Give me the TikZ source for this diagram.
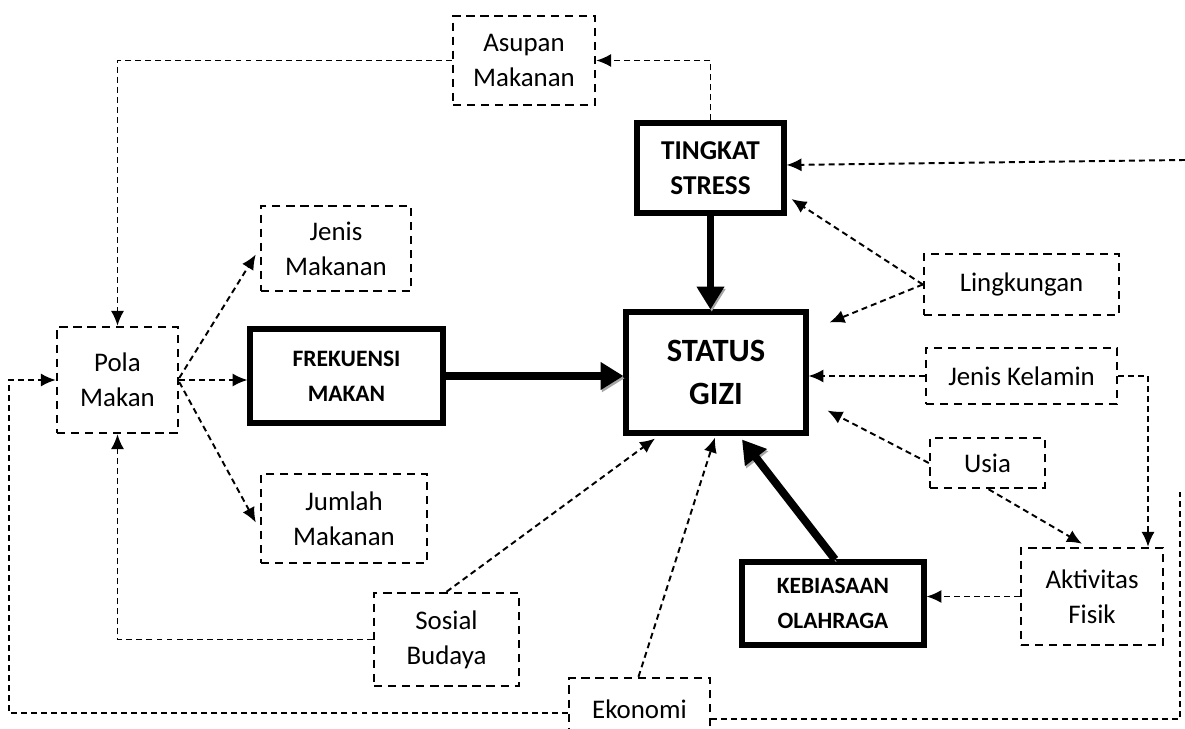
\documentclass[tikz,border=0pt]{standalone}
\usepackage{fontspec}
\setmainfont{Carlito}
\usetikzlibrary{arrows.meta,calc}
\begin{document}
\begin{tikzpicture}[x=0.02cm,y=-0.02cm,
 dbox/.style={draw, line width=1.4pt, dash pattern=on 4.7pt off 3.3pt, align=center, inner sep=0pt, font=\fontsize{15.3}{20}\selectfont},
 tbox/.style={draw, line width=2.9pt, align=center, inner sep=0pt, font=\bfseries\fontsize{13.4}{20}\selectfont},
 dc/.style={line width=1.1pt, dash pattern=on 3.4pt off 2.3pt, -{Latex[length=8.5pt,width=7.5pt]}},
 tc/.style={line width=4.5pt, -{Triangle[length=13pt,width=15pt]}, preaction={draw=black!35, transform canvas={xshift=0.7pt,yshift=-1.3pt}}}
]
\useasboundingbox (0,0) rectangle (1185,729);
\clip (0,0) rectangle (1185,729);

% nodes
\node[dbox, minimum width=2.84cm, minimum height=1.78cm] (asupan) at (524,60.5) {Asupan\\Makanan};
\node[tbox, minimum width=2.94cm, minimum height=1.8cm, font=\bfseries\fontsize{15.5}{20}\selectfont] (tingkat) at (710.5,168) {TINGKAT\\STRESS};
\node[dbox, minimum width=3.0cm, minimum height=1.7cm] (jenis) at (336,248.5) {Jenis\\Makanan};
\node[dbox, minimum width=2.42cm, minimum height=2.12cm] (pola) at (117.5,380) {Pola\\Makan};
\node[tbox, minimum width=3.86cm, minimum height=1.88cm] (frek) at (346.5,376) {FREKUENSI\\MAKAN};
\node[dbox, minimum width=3.32cm, minimum height=1.78cm] (jumlah) at (344,518.5) {Jumlah\\Makanan};
\node[dbox, minimum width=2.9cm, minimum height=1.86cm] (sosial) at (446.5,639.5) {Sosial\\Budaya};
\node[dbox, minimum width=2.82cm, minimum height=1.24cm] (ekon) at (639.5,709) {Ekonomi};
\node[tbox, minimum width=3.6cm, minimum height=2.42cm, font=\bfseries\fontsize{18.5}{24}\selectfont] (status) at (716,372.5) {STATUS\\GIZI};
\node[dbox, minimum width=3.9cm, minimum height=1.22cm] (lingk) at (1021.5,284.5) {Lingkungan};
\node[dbox, minimum width=3.82cm, minimum height=1.12cm] (jk) at (1021.5,376) {Jenis Kelamin};
\node[dbox, minimum width=2.3cm, minimum height=1.0cm] (usia) at (987.5,463) {Usia};
\node[dbox, minimum width=2.84cm, minimum height=1.94cm] (aktiv) at (1092,596.5) {Aktivitas\\Fisik};
\node[tbox, minimum width=3.64cm, minimum height=1.66cm, font=\bfseries\fontsize{13.3}{20}\selectfont] (keb) at (833,603.5) {KEBIASAAN\\OLAHRAGA};

\coordinate (rgt) at (1180,492);
\coordinate (tr) at (1185,160);

% thick connectors
\draw[tc] (frek.east) -- (frek.east -| status.west);
\draw[tc] (tingkat.south) -- (tingkat.south |- status.north);
\draw[tc] ([shift={(2,0)}]keb.north) -- ([shift={(26,4)}]status.south);

% dashed connectors
\draw[dc] (tingkat.north) |- (asupan.east);
\draw[dc] (asupan.west) -| (pola.north);
\draw[dc] ([shift={(0,-2)}]pola.east) -- ([shift={(-4,6)}]jenis.west);
\draw[dc] (pola.east) -- (pola.east -| frek.west);
\draw[dc] ([shift={(0,2)}]pola.east) -- ([shift={(-4,4)}]jumlah.west);
\draw[dc] (lingk.west) -- ([shift={(5,31)}]tingkat.east);
\draw[dc] (lingk.west) -- ([shift={(21,13)}]status.north east);
\draw[dc] (jk.west) -- (jk.west -| status.east);
\draw[dc] (usia.west) -- ([shift={(19,-25)}]status.south east);
\draw[dc] ([shift={(1,0)}]usia.south) -- ([shift={(-10,-3)}]aktiv.north);
\draw[dc] (jk.east) -| ([shift={(56,0)}]aktiv.north);
\draw[dc] (aktiv.west) -- (aktiv.west -| keb.east);
\draw[dc] (sosial.north) -- ([shift={(-61,3)}]status.south);
\draw[dc] (sosial.west) -| (pola.south);
\draw[dc] ([shift={(-1,0)}]ekon.north) -- ([shift={(-1,2)}]status.south);
\draw[dc] ([shift={(0,4)}]ekon.west) -| ([shift={(-47,0)}]pola.west) -- (pola.west);
\draw[dc, -] ([shift={(0,10)}]ekon.east) -| (rgt);
\draw[dc] (tr) -- ([shift={(0,-3)}]tingkat.east);
\end{tikzpicture}
\end{document}
